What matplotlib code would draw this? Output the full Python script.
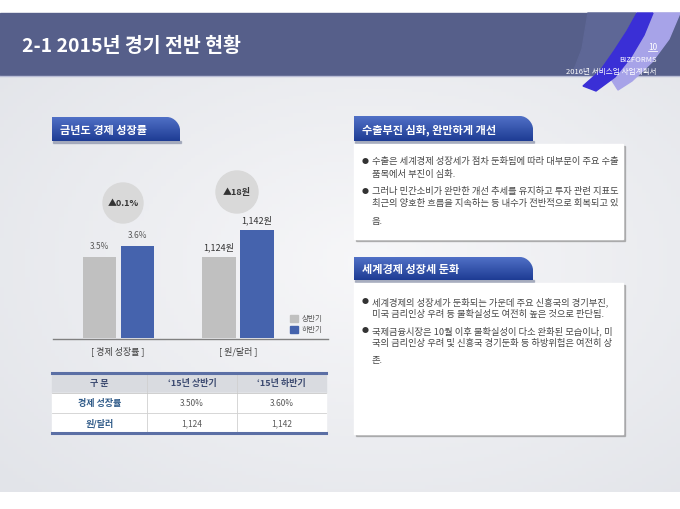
import numpy as np
import matplotlib
matplotlib.use("Agg")
import matplotlib.pyplot as plt
from matplotlib.patches import Rectangle, Circle, Polygon, PathPatch
from matplotlib.path import Path

plt.rcParams['font.family'] = ['Noto Sans CJK KR', 'DejaVu Sans']

# ---- data ----
title = "2-1 2015년 경기 전반 현황"
page_no = "10"
brand = "BIZFORMS"
doc_name = "2016년 서비스업 사업계획서"

chart_title = "금년도 경제 성장률"
halves = ["상반기", "하반기"]
growth = [3.5, 3.6]
won_dollar = [1124, 1142]
group_labels = ["[ 경제 성장률 ]", "[ 원/달러 ]"]

table_head = ["구 분", "‘15년 상반기", "‘15년 하반기"]
table_rows = ["경제 성장률", "원/달러"]
table_vals = [["3.50%", "3.60%"], ["1,124", "1,142"]]

box1_title = "수출부진 심화, 완만하게 개선"
box1_lines = [
    ["수출은 세계경제 성장세가 점차 둔화됨에 따라 대부분이 주요 수출",
     "품목에서 부진이 심화."],
    ["그러나 민간소비가 완만한 개선 추세를 유지하고 투자 관련 지표도",
     "최근의 양호한 흐름을 지속하는 등 내수가 전반적으로 회복되고 있",
     "음."],
]
box2_title = "세계경제 성장세 둔화"
box2_lines = [
    ["세계경제의 성장세가 둔화되는 가운데 주요 신흥국의 경기부진,",
     "미국 금리인상 우려 등 불확실성도 여전히 높은 것으로 판단됨."],
    ["국제금융시장은 10월 이후 불확실성이 다소 완화된 모습이나, 미",
     "국의 금리인상 우려 및 신흥국 경기둔화 등 하방위험은 여전히 상",
     "존."],
]

GRAY = '#c0c0c0'
BLUE = '#4563ad'
W, H = 680, 510


def px_rect(x0, y0, x1, y1):
    return [x0 / W, 1 - y1 / H, (x1 - x0) / W, (y1 - y0) / H]


fig = plt.figure(figsize=(6.8, 5.1), dpi=100)
fig.patch.set_facecolor('white')
bg = fig.add_axes([0, 0, 1, 1])
bg.axis('off')

# slide background gradient
yy, xx = np.mgrid[0:1:120j, 0:1:160j]
d = np.clip(np.sqrt(((xx - 0.55) / 0.75) ** 2 + ((yy - 0.45) / 0.8) ** 2), 0, 1)
c_mid = np.array([247, 247, 249]) / 255
c_edge = np.array([226, 228, 233]) / 255
grad = c_mid + (c_edge - c_mid) * d[..., None]
bg.imshow(grad, extent=[0, W, 493, 76], aspect='auto', zorder=0)

# header band
bg.add_patch(Rectangle((0, 14), W, 62, color='#565f8a', zorder=1))
bg.plot([0, W], [76.5, 76.5], color='#b9bdd6', lw=1, zorder=1)
bg.add_patch(Polygon([(588, 14), (636, 14), (626, 32), (612, 55), (600, 76),
                      (572, 76), (582, 50)], color='#5e6796', zorder=1.5))
bg.add_patch(Polygon([(654, 14), (680, 14), (669, 40), (652, 63), (632, 82),
                      (618, 91), (611, 80), (628, 60), (643, 38)],
                     color='#a7a3e8', zorder=2))
bg.add_patch(Polygon([(637, 14), (653, 14), (644, 36), (631, 58), (615, 78),
                      (596, 92), (583, 87), (600, 72), (614, 52), (627, 32)],
                     color='#3a2fd6', zorder=2.1))

bg.text(22, 46, title, color='white', fontsize=14, fontweight='bold',
        va='center', ha='left', zorder=3)
bg.text(657, 47, page_no, color='white', fontsize=6, ha='right', va='center', zorder=3)
bg.plot([648, 657], [52, 52], color='white', lw=0.6, zorder=3)
bg.text(657, 60, brand, color='white', fontsize=5.5, ha='right', va='center', zorder=3)
bg.text(657, 72, doc_name, color='white', fontsize=5.5, ha='right', va='center', zorder=3)


def label_box(x0, y0, x1, y1, text):
    r = 13
    verts = [(x0, y1), (x0, y0), (x1 - r, y0),
             (x1 - r * 0.45, y0), (x1, y0 + r * 0.55), (x1, y0 + r),
             (x1, y1), (x0, y1)]
    codes = [Path.MOVETO, Path.LINETO, Path.LINETO,
             Path.CURVE4, Path.CURVE4, Path.CURVE4,
             Path.LINETO, Path.CLOSEPOLY]
    bg.add_patch(Rectangle((x0 + 1, y1), x1 - x0, 1.5, color='#8890a8', alpha=0.6, zorder=3))
    patch = PathPatch(Path(verts, codes), facecolor='none', edgecolor='none', zorder=4)
    bg.add_patch(patch)
    t = np.linspace(0, 1, 60)[:, None, None]
    top = np.array([80, 112, 198]) / 255
    bot = np.array([30, 60, 148]) / 255
    arr = np.repeat(top + (bot - top) * t, 2, axis=1)
    im = bg.imshow(arr, extent=[x0, x1, y1, y0], aspect='auto', zorder=4)
    im.set_clip_path(patch)
    bg.text(x0 + 8, (y0 + y1) / 2 + 0.5, text, color='white', fontsize=8,
            fontweight='bold', va='center', ha='left', zorder=5)


def text_box(x0, y0, x1, y1, paras, ys):
    bg.add_patch(Rectangle((x0 + 1.5, y0 + 2), x1 - x0, y1 - y0, color='#8a8a8a',
                           alpha=0.55, zorder=3))
    bg.add_patch(Rectangle((x0, y0), x1 - x0, y1 - y0, color='white', zorder=3.5))
    k = 0
    for para in paras:
        for j, line in enumerate(para):
            if j == 0:
                bg.text(x0 + 11, ys[k], "●", fontsize=5, color='#333333',
                        va='center', ha='center', zorder=5)
            bg.text(x0 + 17.5, ys[k], line, fontsize=6.7, color='#464646',
                    va='center', ha='left', zorder=5)
            k += 1


# left chart title
label_box(52, 118, 180, 142, chart_title)

# bars: one axes per group, each with its own value scale
ax1 = fig.add_axes(px_rect(53, 150, 190, 339))
ax1.bar([0, 1], growth, width=0.87, color=[GRAY, BLUE])
ax1.set_xlim(-1.224, 2.382)
ax1.set_ylim(2.764, 2.764 + 189 / 110)
ax1.axis('off')
for i, v in enumerate(growth):
    ax1.annotate(f"{v}%", (i, v), xytext=(0, 5), textcoords='offset points',
                 ha='center', va='bottom', fontsize=6, color='#595959')

ax2 = fig.add_axes(px_rect(190, 150, 325, 339))
ax2.bar([0, 1], won_dollar, width=0.87, color=[GRAY, BLUE])
ax2.set_xlim(-0.763, 2.789)
ax2.set_ylim(1070, 1070 + 189 / 1.5)
ax2.axis('off')
for i, v in enumerate(won_dollar):
    ax2.annotate(f"{v:,}원", (i, v), xytext=(0, 4), textcoords='offset points',
                 ha='center', va='bottom', fontsize=6.5, color='#333333')

for ax in (ax1, ax2):
    ax.patch.set_alpha(0)

bg.plot([53, 328], [339.5, 339.5], color='#808080', lw=1, zorder=3)

# difference bubbles
bg.add_patch(Circle((123, 204), 20, color='#d9d9d9', zorder=3))
bg.text(123, 204, f"▲{growth[1] - growth[0]:.1f}%", fontsize=6.5, fontweight='bold',
        color='#333333', ha='center', va='center', zorder=4)
bg.add_patch(Circle((237, 193), 21, color='#d9d9d9', zorder=3))
bg.text(237, 193, f"▲{won_dollar[1] - won_dollar[0]}원", fontsize=6.5, fontweight='bold',
        color='#333333', ha='center', va='center', zorder=4)

bg.text(118, 351, group_labels[0], fontsize=6.5, color='#404040', ha='center', va='center', zorder=4)
bg.text(238, 351, group_labels[1], fontsize=6.5, color='#404040', ha='center', va='center', zorder=4)

# legend
for k, (lab, col) in enumerate(zip(halves, [GRAY, BLUE])):
    bg.add_patch(Rectangle((290, 316 + 11 * k), 8, 7, color=col, zorder=4))
    bg.text(302, 319.5 + 11 * k, lab, fontsize=5.5, color='#595959', va='center', zorder=4)

# table
cols = [52, 147, 237, 326]
rows = [374, 394, 414, 433]
bg.add_patch(Rectangle((52, 374), 274, 20, color='#d9dbe0', zorder=3))
bg.add_patch(Rectangle((52, 394), 274, 39, color='white', zorder=3))
for x in cols[1:-1]:
    bg.plot([x, x], [374, 433], color='#d0d0d0', lw=0.6, zorder=3.5)
bg.plot([52, 326], [414, 414], color='#d0d0d0', lw=0.6, zorder=3.5)
bg.plot([52, 326], [394, 394], color='#c8c8c8', lw=0.6, zorder=3.5)
bg.plot([52, 326], [374, 374], color='#5b6fa5', lw=2.2, zorder=4)
bg.plot([52, 326], [433.5, 433.5], color='#5b6fa5', lw=2.2, zorder=4)
for c, h in enumerate(table_head):
    bg.text((cols[c] + cols[c + 1]) / 2, 384, h, fontsize=6.5, fontweight='bold',
            color='#3c4a70', ha='center', va='center', zorder=4)
for r, lab in enumerate(table_rows):
    yc = (rows[r + 1] + rows[r + 2]) / 2
    bg.text((cols[0] + cols[1]) / 2, yc, lab, fontsize=6.5, fontweight='bold',
            color='#2f5a88', ha='center', va='center', zorder=4)
    for c, val in enumerate(table_vals[r]):
        bg.text((cols[c + 1] + cols[c + 2]) / 2, yc, val, fontsize=6,
                color='#595959', ha='center', va='center', zorder=4)

# right column
label_box(354, 117, 533, 142, box1_title)
text_box(354, 145, 623, 240, box1_lines, [162, 175, 192, 204, 222])
label_box(354, 258, 533, 281, box2_title)
text_box(354, 284, 623, 435, box2_lines, [302, 314, 331, 343, 361])

bg.set_xlim(0, W)
bg.set_ylim(H, 0)

fig.savefig("out.png", dpi=100)
